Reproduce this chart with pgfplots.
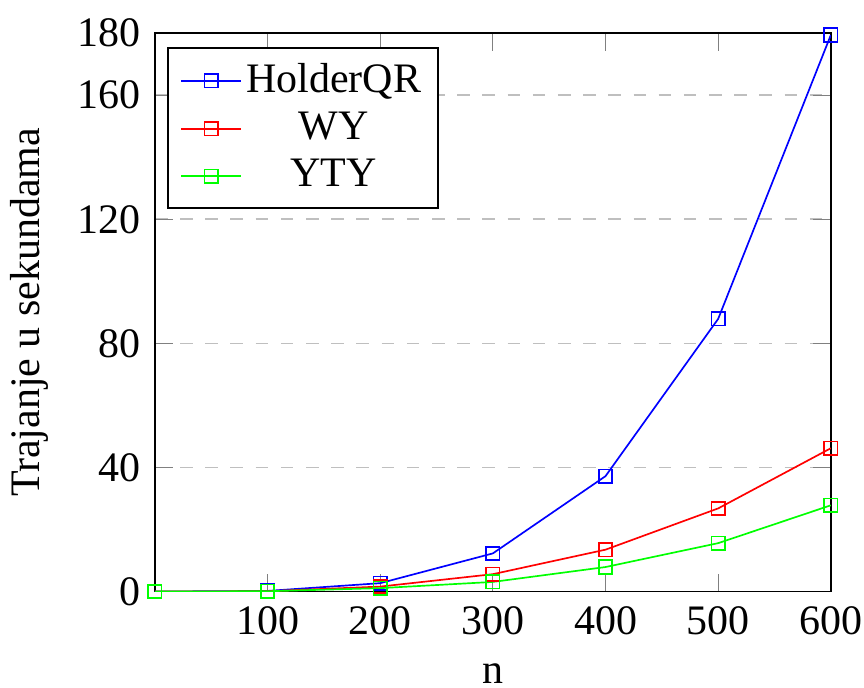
\documentclass[border=0pt]{standalone}
\usepackage{pgfplots}
\pgfplotsset{compat=1.18}
\usetikzlibrary{calc}
\usepackage{fontspec}
\setmainfont{Liberation Serif}
\begin{document}
\begin{tikzpicture}
\begin{axis}[
    scale only axis,
    width=161pt, height=133pt,
    xlabel={n},
    ylabel={Trajanje u sekundama},
    xmin=0, xmax=600, ymin=0, ymax=180,
    xtick={100,200,...,600},
    ytick={0,40,80,120,160,180},
    ymajorgrids,
    grid style={dashed, gray!50},
    legend style={at={(0.018,0.975)}, anchor=north west,
        nodes={inner xsep=1pt, inner ysep=1.6pt, text depth=0.15em}},
    legend image code/.code={
        \draw[mark repeat=2,mark phase=2] plot coordinates {(0cm,0cm) (0.25cm,0cm) (0.5cm,0cm)};
    },
    legend cell align=center,
    mark size=1.6pt,
    /pgf/number format/assume math mode=true,
]
\addplot[blue, mark=square] coordinates {
    (0,0) (100,0.2) (200,2.7) (300,12.3) (400,37.2) (500,87.9) (600,179.4)
};
\addlegendentry{HolderQR}
\addplot[red, mark=square] coordinates {
    (0,0) (100,0.1) (200,1.6) (300,5.6) (400,13.5) (500,26.8) (600,46.2)
};
\addlegendentry{WY}
\addplot[green, mark=square] coordinates {
    (0,0) (100,0.1) (200,1.1) (300,3.1) (400,7.9) (500,15.6) (600,27.8)
};
\addlegendentry{YTY}
\end{axis}
% tighter crop, as in the original figure
\pgfresetboundingbox
\path ($(current axis.south west)+(-36.9pt,-22.9pt)$) rectangle ($(current axis.north east)+(7.9pt,7.9pt)$);
\end{tikzpicture}
\end{document}
